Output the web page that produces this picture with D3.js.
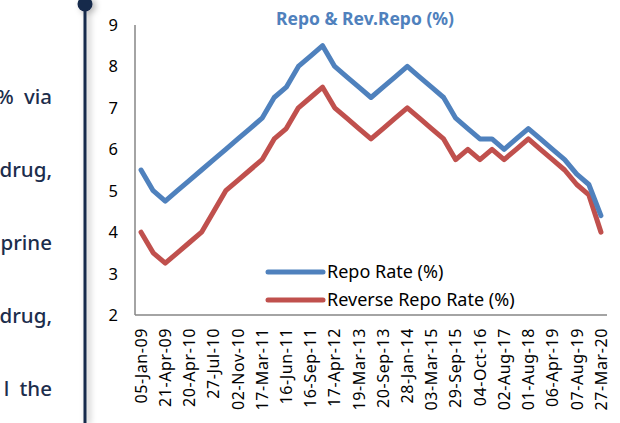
<!DOCTYPE html>
<html lang="en">
<head>
	<meta charset="UTF-8">
	<title>Repo & Rev.Repo</title>
	<script src="https://cdn.jsdelivr.net/npm/d3@7/dist/d3.min.js"></script>
	<style>
		body { margin: 0; background: #fff; }
		svg { display: block; }
	</style>
</head>
<body>
	<div id="vis"></div>

	<script>
		var width = 620;
		var height = 423;

		// policy dates (each tick on the chart is one rate change)
		var dates = [
			"05-Jan-09", "05-Mar-09", "21-Apr-09", "19-Mar-10", "20-Apr-10", "02-Jul-10",
			"27-Jul-10", "16-Sep-10", "02-Nov-10", "25-Jan-11", "17-Mar-11", "03-May-11",
			"16-Jun-11", "26-Jul-11", "16-Sep-11", "25-Oct-11", "17-Apr-12", "29-Jan-13",
			"19-Mar-13", "03-May-13", "20-Sep-13", "29-Oct-13", "28-Jan-14", "15-Jan-15",
			"03-Mar-15", "02-Jun-15", "29-Sep-15", "05-Apr-16", "04-Oct-16", "06-Apr-17",
			"02-Aug-17", "06-Jun-18", "01-Aug-18", "07-Feb-19", "06-Apr-19", "06-Jun-19",
			"07-Aug-19", "04-Oct-19", "27-Mar-20"
		];
		var repoRate = [
			5.5, 5.0, 4.75, 5.0, 5.25, 5.5,
			5.75, 6.0, 6.25, 6.5, 6.75, 7.25,
			7.5, 8.0, 8.25, 8.5, 8.0, 7.75,
			7.5, 7.25, 7.5, 7.75, 8.0, 7.75,
			7.5, 7.25, 6.75, 6.5, 6.25, 6.25,
			6.0, 6.25, 6.5, 6.25, 6.0, 5.75,
			5.4, 5.15, 4.4
		];
		var reverseRepoRate = [
			4.0, 3.5, 3.25, 3.5, 3.75, 4.0,
			4.5, 5.0, 5.25, 5.5, 5.75, 6.25,
			6.5, 7.0, 7.25, 7.5, 7.0, 6.75,
			6.5, 6.25, 6.5, 6.75, 7.0, 6.75,
			6.5, 6.25, 5.75, 6.0, 5.75, 6.0,
			5.75, 6.0, 6.25, 6.0, 5.75, 5.5,
			5.15, 4.9, 4.0
		];
		var yTicks = [2, 3, 4, 5, 6, 7, 8, 9];
		var seriesNames = ["Repo Rate (%)", "Reverse Repo Rate (%)"];
		var seriesColors = ["#4f81bd", "#c0504d"];

		// text lines cut off at the left edge of the page
		var sideText = ["% via", "drug,", "prine", "drug,", "l the"];

		var svg = d3.select("#vis").append("svg")
			.attr("width", width)
			.attr("height", height);

		var defs = svg.append("defs");
		var shadow = defs.append("filter").attr("id", "shadow")
			.attr("x", "-200%").attr("width", "500%");
		shadow.append("feDropShadow")
			.attr("dx", 3).attr("dy", 2)
			.attr("stdDeviation", 3)
			.attr("flood-color", "#000")
			.attr("flood-opacity", 0.3);

		var font = "'Noto Sans', sans-serif";

		// left column: clipped paragraph and timeline line
		svg.append("g").selectAll("text")
			.data(sideText)
			.join("text")
			.attr("x", 52)
			.attr("y", function(d, i) { return 104 + i * 73; })
			.attr("text-anchor", "end")
			.attr("font-family", font)
			.attr("font-size", 20.5)
			.attr("font-weight", 500)
			.attr("word-spacing", 5)
			.attr("fill", "#1c2d4c")
			.text(function(d) { return d; });

		var timeline = svg.append("g").attr("filter", "url(#shadow)");
		timeline.append("line")
			.attr("x1", 85).attr("x2", 85)
			.attr("y1", 0).attr("y2", height)
			.attr("stroke", "#13294b")
			.attr("stroke-width", 3);
		timeline.append("circle")
			.attr("cx", 85).attr("cy", 4)
			.attr("r", 7.5)
			.attr("fill", "#13294b");

		// chart area
		var plotLeft = 135, plotRight = 607, plotTop = 25, plotBottom = 315;

		var x = d3.scaleBand()
			.domain(dates)
			.range([plotLeft, plotRight]);

		var y = d3.scaleLinear()
			.domain([2, 9])
			.range([plotBottom, plotTop]);

		// y axis labels
		svg.append("g").selectAll("text")
			.data(yTicks)
			.join("text")
			.attr("x", 118)
			.attr("y", function(d) { return y(d); })
			.attr("dy", "0.36em")
			.attr("text-anchor", "end")
			.attr("font-family", font)
			.attr("font-size", 16.5)
			.attr("fill", "#000")
			.text(function(d) { return d; });

		// x axis labels (every other date)
		var labelled = dates.filter(function(d, i) { return i % 2 === 0; });
		svg.append("g").selectAll("text")
			.data(labelled)
			.join("text")
			.attr("transform", function(d) {
				return "translate(" + (x(d) + x.bandwidth() / 2) + "," + 328 + ") rotate(-90)";
			})
			.attr("dy", "0.36em")
			.attr("text-anchor", "end")
			.attr("font-family", font)
			.attr("font-size", 16)
			.attr("letter-spacing", 0.6)
			.attr("fill", "#000")
			.text(function(d) { return d; });

		// axis lines
		svg.append("line")
			.attr("x1", plotLeft).attr("x2", plotLeft)
			.attr("y1", plotTop).attr("y2", plotBottom)
			.attr("stroke", "#868686").attr("stroke-width", 1.5);
		svg.append("line")
			.attr("x1", plotLeft).attr("x2", plotRight)
			.attr("y1", plotBottom).attr("y2", plotBottom)
			.attr("stroke", "#868686").attr("stroke-width", 1.5);

		// series lines (reverse repo drawn first, repo on top)
		var series = [repoRate, reverseRepoRate];
		var line = d3.line()
			.x(function(d, i) { return x(dates[i]) + x.bandwidth() / 2; })
			.y(function(d) { return y(d); });

		svg.append("g").selectAll("path")
			.data([1, 0])
			.join("path")
			.attr("d", function(k) { return line(series[k]); })
			.attr("fill", "none")
			.attr("stroke", function(k) { return seriesColors[k]; })
			.attr("stroke-width", 5)
			.attr("stroke-linejoin", "round")
			.attr("stroke-linecap", "round");

		// title
		svg.append("text")
			.attr("x", 365)
			.attr("y", 25)
			.attr("text-anchor", "middle")
			.attr("font-family", font)
			.attr("font-weight", "bold")
			.attr("font-size", 17.5)
			.attr("fill", "#4f81bd")
			.text("Repo & Rev.Repo (%)");

		// legend
		var legend = svg.append("g").selectAll("g")
			.data(seriesNames)
			.join("g")
			.attr("transform", function(d, i) { return "translate(268," + (272 + i * 28) + ")"; });
		legend.append("line")
			.attr("x1", 0).attr("x2", 55)
			.attr("stroke", function(d, i) { return seriesColors[i]; })
			.attr("stroke-width", 5)
			.attr("stroke-linecap", "round");
		legend.append("text")
			.attr("x", 59)
			.attr("dy", "0.36em")
			.attr("font-family", font)
			.attr("font-size", 18)
			.attr("fill", "#000")
			.text(function(d) { return d; });
	</script>
</body>
</html>
